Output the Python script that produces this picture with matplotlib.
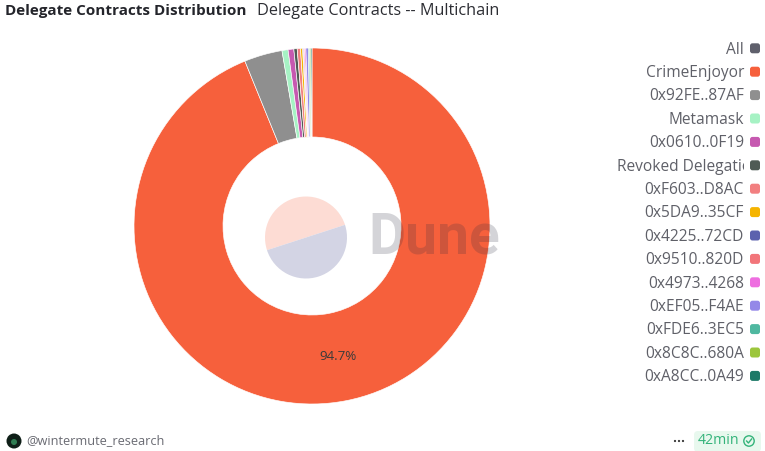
import math
import matplotlib
matplotlib.use("Agg")
import matplotlib.pyplot as plt
from matplotlib.patches import Circle, Wedge, FancyBboxPatch, Rectangle

W, H = 765, 451
plt.rcParams['font.family'] = ['Open Sans', 'DejaVu Sans']

names = ["All", "CrimeEnjoyor", "0x92FE..87AF", "Metamask", "0x0610..0F19", "Revoked Delegations",
         "0xF603..D8AC", "0x5DA9..35CF", "0x4225..72CD", "0x9510..820D", "0x4973..4268",
         "0xEF05..F4AE", "0xFDE6..3EC5", "0x8C8C..680A", "0xA8CC..0A49"]
values = [0.0, 93.85, 3.45, 0.55, 0.52, 0.30, 0.30, 0.19, 0.07, 0.10, 0.12, 0.22, 0.12, 0.11, 0.10]
colors = ["#5f606c", "#f6603c", "#8f8f8f", "#a6f2c4", "#c659b0", "#4f5b55", "#f27f80", "#f5b400",
          "#5c62ae", "#f2757a", "#ee6ee0", "#9488e8", "#4fb8a0", "#9cc63c", "#1e7a68"]
shown_pct = {"CrimeEnjoyor": "94.7%"}

fig = plt.figure(figsize=(W / 100, H / 100), dpi=100)
ax = fig.add_axes([0, 0, 1, 1])
ax.set_xlim(0, W)
ax.set_ylim(H, 0)
ax.axis("off")

pax = fig.add_axes([0, 0, 1, 1], zorder=0)
cx, cy, R = 312, H - 226, 178
wedges, _ = pax.pie(values, colors=colors, startangle=90, counterclock=False, center=(cx, cy),
                    radius=R, frame=True, wedgeprops=dict(width=R / 2, edgecolor="white", linewidth=0.45))
pax.set_xlim(0, W)
pax.set_ylim(0, H)
pax.set_aspect("auto")
pax.axis("off")
for name, w in zip(names, wedges):
    if name in shown_pct:
        a = math.radians((w.theta1 + w.theta2) / 2)
        pax.text(cx + 133 * math.cos(a), cy + 133 * math.sin(a), shown_pct[name], ha="center", va="center",
                 fontsize=9.6, color="#3a3a3a")

lx, ly, lr = 306, H - 237.5, 41
pax.add_patch(Wedge((lx, ly), lr, 18, 198, facecolor="#fddcd4", edgecolor="none", zorder=5))
pax.add_patch(Wedge((lx, ly), lr, 198, 378, facecolor="#d3d4e4", edgecolor="none", zorder=5))
pax.text(434, H - 238, "Dune", ha="center", va="center", fontsize=41, fontweight="bold",
         color="#2c2c3c", alpha=0.2, zorder=6, family="Roboto")

ax.set_zorder(2)
ax.text(5, 11, "Delegate Contracts Distribution", fontsize=11, fontweight="bold", color="#24252b", va="center")
ax.text(257, 11, "Delegate Contracts -- Multichain", fontsize=11.7, color="#2c2d33", va="center")

y0, dy = 49.6, 23.4
for i, (n, c) in enumerate(zip(names, colors)):
    y = y0 + i * dy
    if n.startswith("Revoked"):
        t = ax.text(617, y, n, ha="left", va="center", fontsize=11.2, color="#5f6068")
        t.set_clip_path(Rectangle((600, y - 12), 127 + 17, 24, transform=ax.transData))
        t.set_clip_on(True)
    else:
        ax.text(744, y, n, ha="right", va="center", fontsize=11.2, color="#5f6068")
    ax.add_patch(FancyBboxPatch((751, y - 5.3), 8, 8, boxstyle="round,pad=1,rounding_size=2.5",
                                facecolor=c, edgecolor="none"))

ax.add_patch(Circle((14, 441), 7.5, facecolor="#0f1f18", edgecolor="none"))
ax.add_patch(Circle((14, 442), 3, facecolor="#2f7d52", edgecolor="none"))
ax.text(26, 441, "@wintermute_research", fontsize=9.2, color="#6a6b73", va="center")
for dx in (-4, 0, 4):
    ax.add_patch(Circle((679 + dx, 441), 1.1, facecolor="#333333", edgecolor="none"))
ax.add_patch(FancyBboxPatch((696, 433), 63, 17, boxstyle="round,pad=2,rounding_size=4",
                            facecolor="#e8f8ee", edgecolor="none"))
ax.text(698, 441, "42min", fontsize=10.2, color="#33b37a", va="center")
ax.add_patch(Circle((749, 441), 5.2, facecolor="none", edgecolor="#33b37a", linewidth=1))
ax.plot([746.6, 748.4, 751.6], [441, 443, 439], color="#33b37a", linewidth=1)

fig.savefig("out.png", dpi=100)
